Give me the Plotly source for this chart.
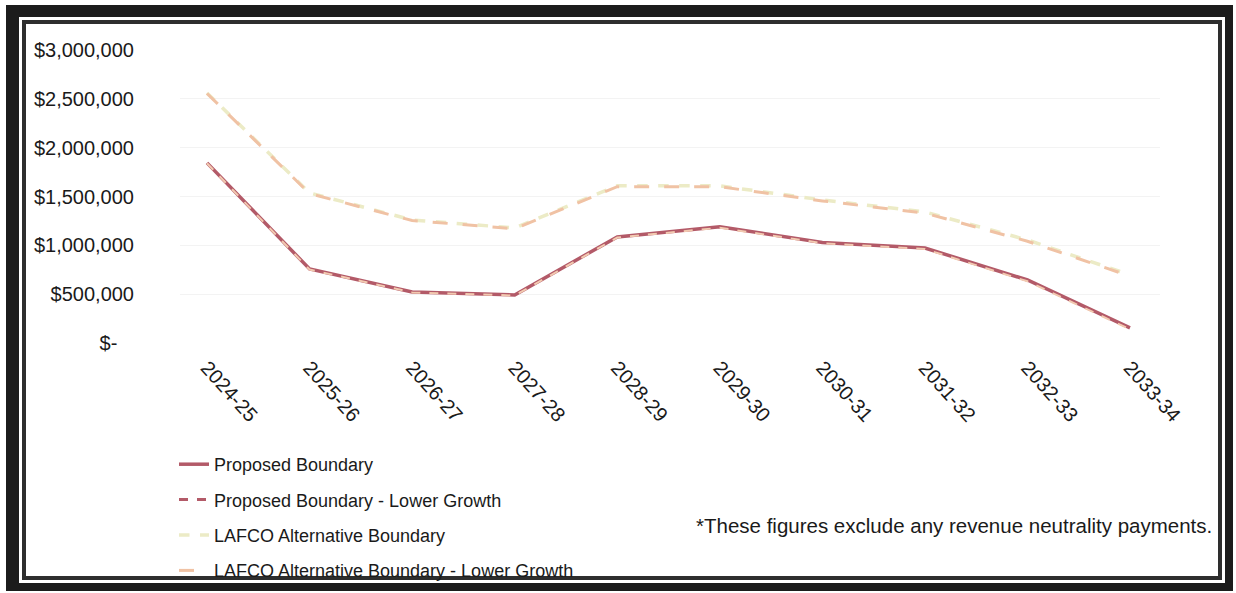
import plotly.graph_objects as go

years = ["2024-25", "2025-26", "2026-27", "2027-28", "2028-29",
         "2029-30", "2030-31", "2031-32", "2032-33", "2033-34"]
proposed = [1844000, 758000, 523000, 492000, 1086000, 1189000, 1030000, 973000, 645000, 154000]
proposed_lower = [1840000, 752000, 518000, 486000, 1080000, 1180000, 1022000, 962000, 632000, 140000]
lafco_alt = [2561000, 1537000, 1260000, 1178000, 1609000, 1609000, 1465000, 1342000, 1055000, 697000]
lafco_lower = [2555000, 1530000, 1254000, 1170000, 1600000, 1600000, 1455000, 1330000, 1042000, 684000]
ytick_vals = [0, 500000, 1000000, 1500000, 2000000, 2500000, 3000000]
ytick_text = ["$-\u00a0\u00a0\u00a0", "$500,000", "$1,000,000", "$1,500,000",
              "$2,000,000", "$2,500,000", "$3,000,000"]

W, H = 1236, 593
L, R, T, B = 180, 76, 50, 250
PW, PH = W - L - R, H - T - B

def px(x):
    return (x - L) / PW

def py(y):
    return (H - B - y) / PH

RED = "#b35a68"
CREAM = "#ecebc6"
PEACH = "#f0c2a4"

fig = go.Figure()
idx = list(range(len(years)))
fig.add_trace(go.Scatter(x=idx, y=proposed, mode="lines", name="Proposed Boundary",
                         legendgroup="a", line=dict(color=RED, width=3.5)))
fig.add_trace(go.Scatter(x=idx, y=proposed_lower, mode="lines", name="Proposed Boundary - Lower Growth",
                         legendgroup="b", line=dict(color="#f2c9b0", width=2, dash="dash"),
                         showlegend=False))
# legend-only entry with the red dashed look
fig.add_trace(go.Scatter(x=[None], y=[None], mode="lines", name="Proposed Boundary - Lower Growth",
                         legendgroup="b", line=dict(color=RED, width=3, dash="dash")))
fig.add_trace(go.Scatter(x=idx, y=lafco_alt, mode="lines", name="LAFCO Alternative Boundary",
                         legendgroup="c", line=dict(color=CREAM, width=3.5, dash="dash")))
fig.add_trace(go.Scatter(x=idx, y=lafco_lower, mode="lines", name="LAFCO Alternative Boundary - Lower Growth",
                         legendgroup="d", line=dict(color=PEACH, width=3, dash="longdash")))

shapes = []
for (x0, y0, x1, y1, c) in [(6, 5, 1233, 591, "#1c1c1c"),
                            (19, 17, 1225, 583, "#ffffff"),
                            (22, 20, 1222, 580, "#2e2e2e"),
                            (26, 24, 1218, 576, "#ffffff")]:
    shapes.append(dict(type="rect", xref="paper", yref="paper", layer="below",
                       x0=px(x0), x1=px(x1), y0=py(y1), y1=py(y0),
                       fillcolor=c, line=dict(width=0)))

fig.update_layout(
    width=W, height=H,
    margin=dict(l=L, r=R, t=T, b=B, autoexpand=False),
    paper_bgcolor="white", plot_bgcolor="rgba(0,0,0,0)",
    font=dict(family="Liberation Sans, Arial, sans-serif", size=18, color="#1a1a1a"),
    shapes=shapes,
    showlegend=True,
    legend=dict(x=px(174), y=py(446), xanchor="left", yanchor="top",
                bgcolor="rgba(0,0,0,0)", font=dict(size=18), tracegroupgap=9,
                traceorder="grouped"),
    xaxis=dict(tickmode="array", tickvals=idx, ticktext=years,
               tickangle=48, showgrid=False, zeroline=False, showline=False, ticks="",
               ticklabelstandoff=8, tickfont=dict(size=20)),
    yaxis=dict(tickmode="array", tickvals=ytick_vals, ticktext=ytick_text, range=[0, 3000000],
               showgrid=True, gridcolor="#f3f3f3", zeroline=False, showline=False, ticks="",
               ticklabelstandoff=45, tickfont=dict(size=20)),
    annotations=[dict(text="*These figures exclude any revenue neutrality payments.",
                      xref="paper", yref="paper", x=px(1214), y=py(525), xanchor="right",
                      yanchor="middle", showarrow=False, font=dict(size=20.5))],
)
fig.update_xaxes(range=[-27 / 102.56, 9 + 30 / 102.56])

fig.write_html("out.html")
